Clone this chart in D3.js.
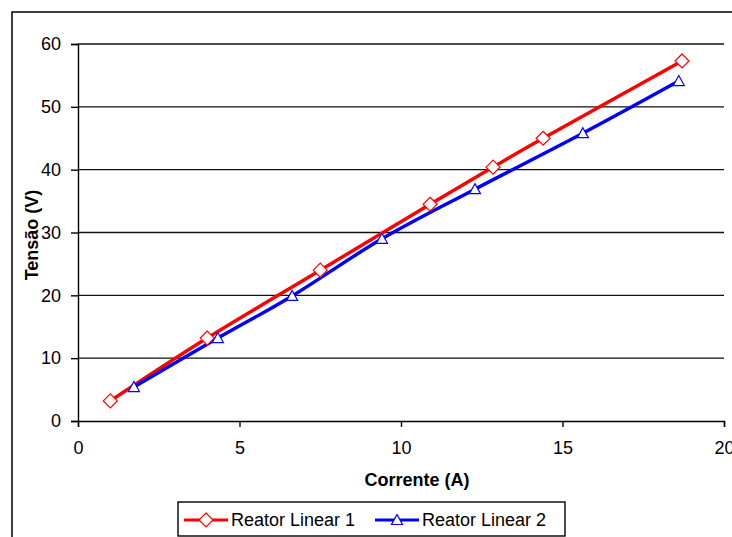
<!DOCTYPE html>
<html><head><meta charset="utf-8">
<script src="https://cdn.jsdelivr.net/npm/d3@7"></script>
<style>body{margin:0;background:#fff}svg{display:block}text{font-family:"Liberation Sans",Arial,sans-serif;fill:#000}</style>
</head><body><svg id="c" width="732" height="537"></svg>
<script>
const seriesNames = ["Reator Linear 1", "Reator Linear 2"];
const current1 = [1.0, 4.0, 7.5, 10.9, 12.85, 14.4, 18.7];
const voltage1 = [3.2, 13.2, 24.0, 34.5, 40.4, 45.0, 57.3];
const current2 = [1.73, 4.33, 6.63, 9.41, 12.29, 15.63, 18.6];
const voltage2 = [5.4, 13.2, 19.9, 29.0, 36.9, 45.8, 54.1];
const xTicks = [0, 5, 10, 15, 20];
const yTicks = [0, 10, 20, 30, 40, 50, 60];
const xTitle = "Corrente (A)";
const yTitle = "Tensão (V)";

const svg = d3.select("#c");
const x = d3.scaleLinear().domain([0, 20]).range([78, 724]);
const y = d3.scaleLinear().domain([0, 60]).range([421, 44]);

// chart area border
svg.append("rect").attr("x", 12).attr("y", 12).attr("width", 760).attr("height", 560)
  .attr("fill", "none").attr("stroke", "#000").attr("stroke-width", 1.5);

// gridlines
svg.append("g").selectAll("line").data(yTicks.filter(d => d > 0)).join("line")
  .attr("x1", x(0)).attr("x2", x(20)).attr("y1", d => y(d)).attr("y2", d => y(d))
  .attr("stroke", "#111").attr("stroke-width", 1.4);

// axes
const xAxis = svg.append("g").attr("transform", `translate(0,${y(0)})`)
  .call(d3.axisBottom(x).tickValues(xTicks).tickSize(6).tickPadding(14).tickFormat(d3.format("d")));
const yAxis = svg.append("g").attr("transform", `translate(${x(0)},0)`)
  .call(d3.axisLeft(y).tickValues(yTicks).tickSize(7).tickPadding(10).tickFormat(d3.format("d")));
[xAxis, yAxis].forEach(a => {
  a.select(".domain").attr("stroke", "#000").attr("stroke-width", 1.4);
  a.selectAll(".tick line").attr("stroke", "#000").attr("stroke-width", 1.4);
  a.selectAll(".tick text").attr("font-size", 18).attr("font-family", "Liberation Sans, Arial, sans-serif").attr("fill", "#000");
});

// titles
svg.append("text").attr("x", 417).attr("y", 486).attr("text-anchor", "middle")
  .attr("font-size", 18).attr("font-weight", "bold").text(xTitle);
svg.append("text").attr("transform", "translate(38,235) rotate(-90)").attr("text-anchor", "middle")
  .attr("font-size", 18).attr("font-weight", "bold").text(yTitle);

const series = [
  {name: seriesNames[0], xs: current1, ys: voltage1, color: "#ff0000", marker: "diamond"},
  {name: seriesNames[1], xs: current2, ys: voltage2, color: "#0000ff", marker: "triangle"}
];
const line = d3.line().x(d => x(d[0])).y(d => y(d[1])).curve(d3.curveCardinal.tension(0));
const diamond = "M0,-7L7,0L0,7L-7,0Z";
const triangle = "M0,-5.5L5.5,4.5L-5.5,4.5Z";

series.forEach(s => {
  const pts = s.xs.map((v, i) => [v, s.ys[i]]);
  svg.append("path").datum(pts).attr("d", line).attr("fill", "none")
    .attr("stroke", s.color).attr("stroke-width", 3.4);
});
series.forEach(s => {
  const pts = s.xs.map((v, i) => [v, s.ys[i]]);
  svg.append("g").selectAll("path").data(pts).join("path")
    .attr("transform", d => `translate(${x(d[0])},${y(d[1])})`)
    .attr("d", s.marker === "diamond" ? diamond : triangle)
    .attr("fill", "#fff").attr("stroke", s.color).attr("stroke-width", 1.2);
});

// legend
const lg = svg.append("g");
lg.append("rect").attr("x", 178).attr("y", 502).attr("width", 387).attr("height", 34)
  .attr("fill", "#fff").attr("stroke", "#000").attr("stroke-width", 1.4);
const legendX = [184, 375];
series.forEach((s, i) => {
  const lx = legendX[i];
  const cy = 520;
  lg.append("line").attr("x1", lx).attr("x2", lx + 44).attr("y1", cy).attr("y2", cy)
    .attr("stroke", s.color).attr("stroke-width", 3.2);
  lg.append("path").attr("transform", `translate(${lx + 22},${cy})`)
    .attr("d", s.marker === "diamond" ? diamond : triangle)
    .attr("fill", "#fff").attr("stroke", s.color).attr("stroke-width", 1.2);
  lg.append("text").attr("x", lx + 47).attr("y", cy + 6).attr("font-size", 18).text(s.name);
});
</script></body></html>
